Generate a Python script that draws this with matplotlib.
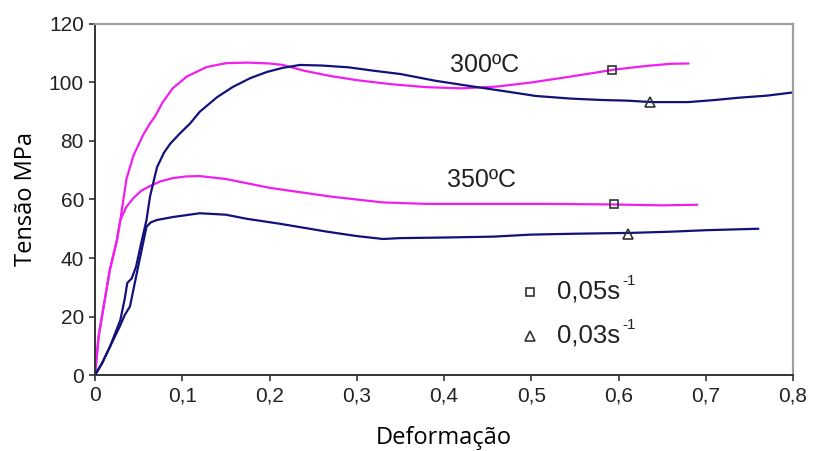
import matplotlib.pyplot as plt

# curvas tensão x deformação
pink300_x = [0, 0.004, 0.0096, 0.017, 0.025, 0.029, 0.036, 0.044, 0.055, 0.063, 0.069, 0.077,
             0.089, 0.105, 0.128, 0.15, 0.175, 0.20, 0.215, 0.24, 0.27, 0.30, 0.34, 0.38,
             0.42, 0.46, 0.50, 0.54, 0.57, 0.595, 0.63, 0.66, 0.68]
pink300_y = [0, 13, 23, 36, 46, 53, 67, 75, 82, 86, 88.5, 93,
             98, 102, 105.3, 106.6, 106.8, 106.5, 106, 104, 102.2, 100.8, 99.4, 98.4,
             98, 98.6, 100, 101.8, 103.2, 104.4, 105.6, 106.4, 106.5]

pink350_x = [0, 0.004, 0.0096, 0.017, 0.025, 0.029, 0.036, 0.044, 0.053, 0.063, 0.075, 0.089,
             0.105, 0.12, 0.15, 0.175, 0.20, 0.235, 0.27, 0.30, 0.33, 0.38, 0.45, 0.52,
             0.595, 0.65, 0.69]
pink350_y = [0, 13, 23, 36, 46, 53, 57.5, 60.5, 63, 64.6, 66.2, 67.3,
             67.9, 68, 67, 65.5, 64, 62.5, 61, 60, 59, 58.5, 58.5, 58.5,
             58.3, 58, 58.2]

navy300_x = [0, 0.008, 0.017, 0.029, 0.034, 0.037, 0.042, 0.047, 0.052, 0.059, 0.063, 0.071,
             0.079, 0.086, 0.097, 0.109, 0.120, 0.14, 0.158, 0.178, 0.197, 0.215, 0.235,
             0.26, 0.29, 0.32, 0.35, 0.39, 0.436, 0.47, 0.505, 0.545, 0.582, 0.61, 0.638,
             0.68, 0.71, 0.738, 0.77, 0.80]
navy300_y = [0, 4, 9.6, 18.8, 26, 31.5, 33, 37, 43.9, 53, 61, 71,
             76, 79, 82.5, 86, 90, 95, 98.5, 101.5, 103.6, 105, 106,
             105.8, 105.2, 104, 102.9, 100.6, 98.5, 97, 95.4, 94.5, 94, 93.8, 93.3,
             93.3, 94, 94.8, 95.5, 96.6]

navy350_x = [0, 0.008, 0.017, 0.029, 0.034, 0.040, 0.048, 0.055, 0.059, 0.064, 0.071, 0.089,
             0.12, 0.15, 0.174, 0.212, 0.266, 0.30, 0.33, 0.35, 0.40, 0.456, 0.50, 0.55,
             0.616, 0.66, 0.70, 0.76]
navy350_y = [0, 4, 9.6, 17, 20.5, 23.4, 35, 45, 50.7, 52.2, 53, 54,
             55.3, 54.8, 53.4, 51.7, 49, 47.5, 46.5, 46.8, 47, 47.3, 48, 48.3,
             48.6, 49, 49.5, 50]

# marcadores das taxas
sq_x = [0.593, 0.595]
sq_y = [104.4, 58.3]
tri_x = [0.636, 0.611]
tri_y = [93.5, 48.3]

xticks = [0, 0.1, 0.2, 0.3, 0.4, 0.5, 0.6, 0.7, 0.8]
xlabels = ['0', '0,1', '0,2', '0,3', '0,4', '0,5', '0,6', '0,7', '0,8']
yticks = [0, 20, 40, 60, 80, 100, 120]

pink = '#f01ef0'
navy = '#12127a'

fig = plt.figure(figsize=(8.13, 4.51), dpi=100)
ax = fig.add_axes([0.1169, 0.1685, 0.8585, 0.7783])

ax.plot(pink300_x, pink300_y, color=pink, lw=1.6)
ax.plot(pink350_x, pink350_y, color=pink, lw=1.6)
ax.plot(navy300_x, navy300_y, color=navy, lw=1.6)
ax.plot(navy350_x, navy350_y, color=navy, lw=1.6)

ax.plot(sq_x, sq_y, ls='none', marker='s', ms=6, mfc='none', mec='#333333', mew=1.2)
ax.plot(tri_x, tri_y, ls='none', marker='^', ms=7, mfc='none', mec='#333333', mew=1.2)

tfont = ['Liberation Sans', 'DejaVu Sans']
ax.text(0.447, 106, '300ºC', fontsize=18, family=tfont, ha='center', va='center', color='#222222')
ax.text(0.443, 66.5, '350ºC', fontsize=18, family=tfont, ha='center', va='center', color='#222222')

# legenda
ax.plot([0.499], [28.5], ls='none', marker='s', ms=6, mfc='none', mec='#333333', mew=1.2)
ax.plot([0.499], [13.5], ls='none', marker='^', ms=7, mfc='none', mec='#333333', mew=1.2)
for yy, lab in [(28.5, '0,05s'), (13.5, '0,03s')]:
    t = ax.text(0.53, yy, lab, fontsize=18.5, family=tfont, va='center', color='#222222')
    ax.annotate('-1', xy=(1.0, 0.95), xycoords=t, xytext=(1, 0), textcoords='offset points',
                fontsize=11, family=tfont, va='center', ha='left', color='#222222')

ax.set_xlim(0, 0.8)
ax.set_ylim(0, 120)
ax.set_xticks(xticks)
ax.set_xticklabels(xlabels, family=tfont, fontsize=15)
ax.set_yticks(yticks)
ax.set_yticklabels([str(v) for v in yticks], family=tfont, fontsize=15)
ax.tick_params(direction='out', length=4, width=1.2, color='#333333', labelcolor='#222222', pad=4)

for s in ['left', 'bottom']:
    ax.spines[s].set_color('#333333')
    ax.spines[s].set_linewidth(1.4)
for s in ['top', 'right']:
    ax.spines[s].set_color('#a0a0a0')
    ax.spines[s].set_linewidth(1.6)

ax.set_xlabel('Deformação', family=['Open Sans', 'DejaVu Sans'], fontsize=17, labelpad=15)
ax.set_ylabel('Tensão MPa', family=['Open Sans', 'DejaVu Sans'], fontsize=17, labelpad=8)

fig.savefig('out.png', dpi=100)
